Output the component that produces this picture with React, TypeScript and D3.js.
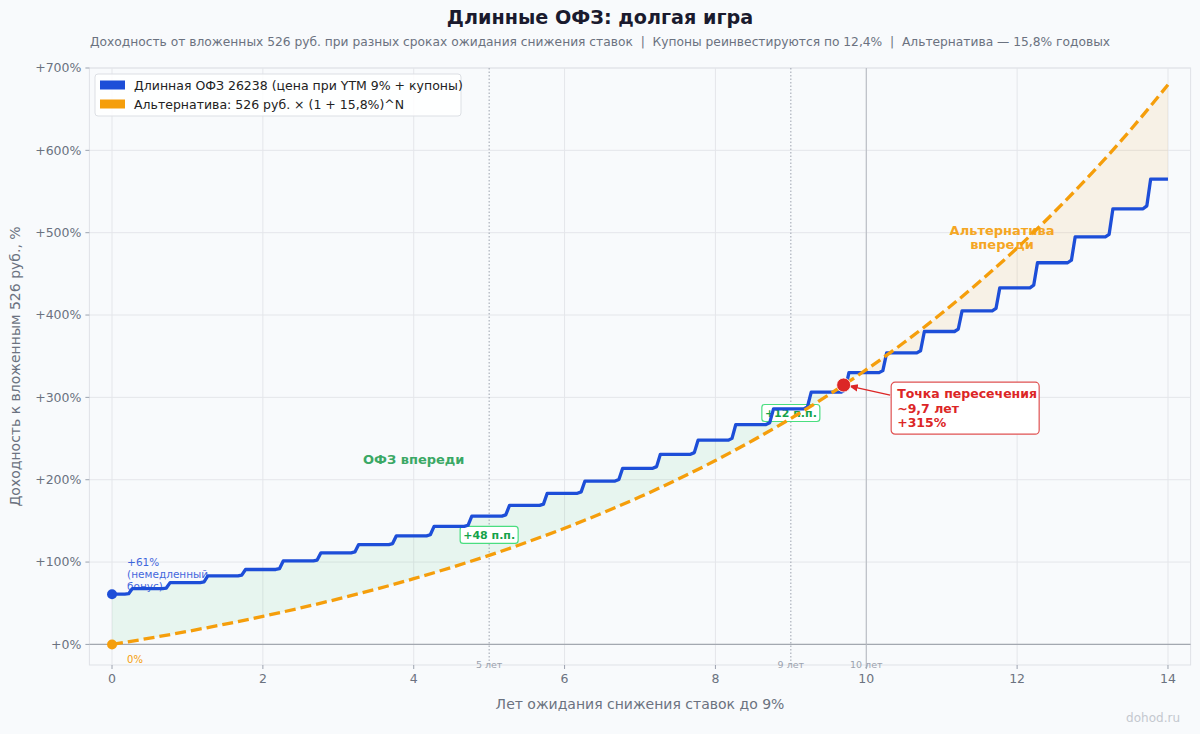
import React from "react";
import * as d3 from "d3";

// Blue series: value after each coupon date (semi-annual), plus the value just before it
const startLevel = 61;
const couponTimes = [
  0.25, 0.75, 1.25, 1.75, 2.25, 2.75, 3.25, 3.75, 4.25, 4.75, 5.25, 5.75, 6.25, 6.75,
  7.25, 7.75, 8.25, 8.75, 9.25, 9.75, 10.25, 10.75, 11.25, 11.75, 12.25, 12.75, 13.25, 13.75,
];
const levelsAfter = [
  67.8, 75.1, 83.2, 91, 101.4, 111.2, 121.3, 131.9, 143.3, 155.8, 168.8, 183.5, 198.4, 213.9,
  230.9, 248, 267, 286, 306.4, 330, 354, 380, 405, 433, 463.5, 495, 529, 565,
];
const levelsBefore = [
  61.6, 68.5, 75.9, 84.1, 92, 102.4, 112.3, 122.5, 133.2, 144.7, 157.3, 170.4, 185.2, 200.2,
  215.9, 232.9, 250.2, 269.3, 288.5, 308.9, 332.5, 356.6, 383, 408, 436.2, 466.6, 498, 532.6,
];
const endYear = 14;

// Orange series: 526 rub at 15.8% p.a., sampled every half year
const altYears = [
  0, 0.5, 1, 1.5, 2, 2.5, 3, 3.5, 4, 4.5, 5, 5.5, 6, 6.5, 7, 7.5, 8, 8.5, 9, 9.5, 10,
  10.5, 11, 11.5, 12, 12.5, 13, 13.5, 14,
];
const altValues = [
  0, 7.6, 15.8, 24.6, 34.1, 44.3, 55.3, 67.1, 79.8, 93.5, 108.2, 124.1, 141.1, 159.5, 179.2,
  200.5, 223.3, 248.0, 274.4, 302.9, 333.6, 366.6, 402.1, 440.3, 481.4, 525.7, 573.3, 624.5, 679.7,
];

const xTicks = [0, 2, 4, 6, 8, 10, 12, 14];
const yTicks = [0, 100, 200, 300, 400, 500, 600, 700];
const markerYears = [
  { year: 5, label: "5 лет", solid: false },
  { year: 9, label: "9 лет", solid: false },
  { year: 10, label: "10 лет", solid: true },
];
const crossYear = 9.7;
const crossValue = 315;
const gap5 = { year: 5, value: 133, text: "+48 п.п." };
const gap9 = { year: 9, value: 281, text: "+12 п.п." };

const W = 1200;
const H = 734;
const FONT = "DejaVu Sans, sans-serif";
const BLUE = "#1d4ed8";
const ORANGE = "#f59e0b";
const GREEN = "#16a34a";
const RED = "#dc2626";
const GRAY = "#6b7280";

type Pt = [number, number];

export default function App() {
  const x = d3.scaleLinear().domain([-0.3, 14.3]).range([89.4, 1190.6]);
  const y = d3.scaleLinear().domain([-25, 700]).range([665, 68]);
  const [x0, x1] = x.range();
  const [yb, yt] = y.range();

  // step line for the bond: flat, small accrual ramp, coupon jump
  const bondPts: Pt[] = [[0, startLevel]];
  couponTimes.forEach((t, i) => {
    const prev = i === 0 ? startLevel : levelsAfter[i - 1];
    bondPts.push([t - 0.08, prev]);
    bondPts.push([t - 0.03, levelsBefore[i]]);
    bondPts.push([t + 0.02, levelsAfter[i]]);
  });
  bondPts.push([endYear, levelsAfter[levelsAfter.length - 1]]);

  const altPts: Pt[] = altYears.map((t, i) => [t, altValues[i]]);

  const bondLine = d3.line<Pt>().x((d) => x(d[0])).y((d) => y(d[1]))(bondPts) || "";
  const altLine = d3
    .line<Pt>()
    .x((d) => x(d[0]))
    .y((d) => y(d[1]))
    .curve(d3.curveMonotoneX)(altPts) || "";

  const toBottom = (pts: Pt[], curve: d3.CurveFactory) =>
    d3.area<Pt>().x((d) => x(d[0])).y0(yb).y1((d) => y(d[1])).curve(curve)(pts) || "";
  const toTop = (pts: Pt[], curve: d3.CurveFactory) =>
    d3.area<Pt>().x((d) => x(d[0])).y0(yt).y1((d) => y(d[1])).curve(curve)(pts) || "";

  const boxX = x(10.33);
  const boxY = y(318.5);

  return (
    <div style={{ position: "absolute", left: 0, top: 0, width: W, height: H }}>
      <svg width={W} height={H} style={{ display: "block", fontFamily: FONT }}>
        <defs>
          <clipPath id="plot">
            <rect x={x0} y={yt} width={x1 - x0} height={yb - yt} />
          </clipPath>
          <clipPath id="belowBond">
            <path d={toBottom(bondPts, d3.curveLinear)} />
          </clipPath>
          <clipPath id="belowAlt">
            <path d={toBottom(altPts, d3.curveMonotoneX)} />
          </clipPath>
          <marker id="arrow" viewBox="0 0 10 10" refX="9" refY="5" markerWidth="7" markerHeight="7" orient="auto">
            <path d="M0,1 L10,5 L0,9 z" fill={RED} />
          </marker>
        </defs>

        <rect width={W} height={H} fill="#f8fafc" />

        {/* title */}
        <text x={600} y={24} textAnchor="middle" fontSize={19.2} fontWeight="bold" fill="#1a1a2e">
          Длинные ОФЗ: долгая игра
        </text>
        <text x={600} y={46} textAnchor="middle" fontSize={12.25} fill={GRAY} style={{ whiteSpace: "pre" }}>
          {"Доходность от вложенных 526 руб. при разных сроках ожидания снижения ставок  |  Купоны реинвестируются по 12,4%  |  Альтернатива — 15,8% годовых"}
        </text>

        {/* plot frame and grid */}
        <rect x={x0} y={yt} width={x1 - x0} height={yb - yt} fill="#f8fafc" stroke="#dfe2e7" />
        {xTicks.map((t) => (
          <line key={"gx" + t} x1={x(t)} x2={x(t)} y1={yt} y2={yb} stroke="#e4e6ea" strokeWidth={1} />
        ))}
        {yTicks.map((t) => (
          <line key={"gy" + t} x1={x0} x2={x1} y1={y(t)} y2={y(t)} stroke="#e4e6ea" strokeWidth={1} />
        ))}

        {/* fills between the two curves */}
        <g clipPath="url(#plot)">
          <g clipPath="url(#belowBond)">
            <path d={toTop(altPts, d3.curveMonotoneX)} fill="#22c55e" fillOpacity={0.08} />
          </g>
          <g clipPath="url(#belowAlt)">
            <path d={toTop(bondPts, d3.curveLinear)} fill={ORANGE} fillOpacity={0.09} />
          </g>
        </g>

        {/* zero line and horizon markers */}
        <line x1={x0} x2={x1} y1={y(0)} y2={y(0)} stroke="#a3a8b0" strokeWidth={1.2} />
        {markerYears.map((m) => (
          <g key={m.label}>
            <line
              x1={x(m.year)}
              x2={x(m.year)}
              y1={yt}
              y2={yb}
              stroke={m.solid ? "#b4b8bf" : "#9ca3af"}
              strokeWidth={1}
              strokeDasharray={m.solid ? undefined : "1.5,2"}
            />
            <text x={x(m.year)} y={yb + 2.5} textAnchor="middle" fontSize={9.5} fill="#9ca3af">
              {m.label}
            </text>
          </g>
        ))}

        {/* gap labels sit under the lines */}
        {[gap5, gap9].map((g) => (
          <g key={g.text} transform={`translate(${x(g.year)},${y(g.value)})`}>
            <rect x={-29} y={-8.5} width={58} height={17} rx={3} fill="#ffffff" stroke="#4ade80" strokeWidth={1.2} />
            <text x={0} y={4} textAnchor="middle" fontSize={11} fontWeight="bold" fill={GREEN}>
              {g.text}
            </text>
          </g>
        ))}

        <g fontSize={10.5} fill={BLUE} opacity={0.85}>
          <text x={x(0.2)} y={y(100) + 4}>+61%</text>
          <text x={x(0.2)} y={y(100) + 16}>(немедленный</text>
          <text x={x(0.2)} y={y(100) + 28}>бонус)</text>
        </g>
        <text x={x(0.2)} y={y(-18) + 4} fontSize={10} fill={ORANGE}>
          0%
        </text>

        <text x={x(4)} y={y(225)} dy="0.35em" textAnchor="middle" fontSize={13} fontWeight="bold" fill="#3aa865">
          ОФЗ впереди
        </text>
        <g fontSize={13} fontWeight="bold" fill="#f5a623" textAnchor="middle">
          <text x={x(11.8)} y={y(503)} dy="0.35em">Альтернатива</text>
          <text x={x(11.8)} y={y(486)} dy="0.35em">впереди</text>
        </g>

        {/* series */}
        <g clipPath="url(#plot)">
          <path d={bondLine} fill="none" stroke={BLUE} strokeWidth={3.3} strokeLinejoin="round" />
          <path d={altLine} fill="none" stroke={ORANGE} strokeWidth={3.3} strokeDasharray="11,5" />
        </g>
        <circle cx={x(0)} cy={y(startLevel)} r={5} fill={BLUE} />
        <circle cx={x(0)} cy={y(altValues[0])} r={5} fill={ORANGE} />

        {/* crossing point */}
        <line
          x1={boxX - 1}
          x2={x(crossYear) + 6}
          y1={boxY + 13}
          y2={y(crossValue) + 1}
          stroke={RED}
          strokeWidth={1.3}
          markerEnd="url(#arrow)"
        />
        <circle cx={x(crossYear)} cy={y(crossValue)} r={7} fill={RED} stroke="#ffffff" strokeWidth={0.8} />
        <g transform={`translate(${boxX},${boxY})`}>
          <rect x={0} y={0} width={148} height={52} rx={4} fill="#ffffff" stroke="#e05252" strokeWidth={1.2} />
          <g fontSize={12.5} fontWeight="bold" fill={RED}>
            <text x={6} y={16}>Точка пересечения</text>
            <text x={6} y={30.5}>~9,7 лет</text>
            <text x={6} y={45}>+315%</text>
          </g>
        </g>

        {/* legend */}
        <g transform="translate(95,74)">
          <rect x={0} y={0} width={366} height={42} rx={3} fill="#ffffff" fillOpacity={0.85} stroke="#dcdfe4" />
          <rect x={5} y={6.5} width={25} height={9} fill={BLUE} />
          <rect x={5} y={25.5} width={25} height={9} fill={ORANGE} />
          <text x={39} y={15.5} fontSize={12.5} fill="#222222">
            Длинная ОФЗ 26238 (цена при YTM 9% + купоны)
          </text>
          <text x={39} y={34.5} fontSize={12.5} fill="#222222">
            Альтернатива: 526 руб. × (1 + 15,8%)^N
          </text>
        </g>

        {/* axes */}
        {xTicks.map((t) => (
          <g key={"tx" + t}>
            <line x1={x(t)} x2={x(t)} y1={yb} y2={yb + 4} stroke="#9ca3af" />
            <text x={x(t)} y={yb + 18} textAnchor="middle" fontSize={12.5} fill={GRAY}>
              {t}
            </text>
          </g>
        ))}
        {yTicks.map((t) => (
          <g key={"ty" + t}>
            <line x1={x0 - 4} x2={x0} y1={y(t)} y2={y(t)} stroke="#9ca3af" />
            <text x={x0 - 8} y={y(t)} dy="0.35em" textAnchor="end" fontSize={12.5} fill={GRAY}>
              {`+${t}%`}
            </text>
          </g>
        ))}
        <text x={(x0 + x1) / 2} y={709} textAnchor="middle" fontSize={14} fill={GRAY}>
          Лет ожидания снижения ставок до 9%
        </text>
        <text
          transform={`translate(20,${(yt + yb) / 2}) rotate(-90)`}
          textAnchor="middle"
          fontSize={14}
          fill={GRAY}
        >
          Доходность к вложенным 526 руб., %
        </text>
        <text x={1180} y={722} textAnchor="end" fontSize={12} fill="#c4c8cf">
          dohod.ru
        </text>
      </svg>
    </div>
  );
}
